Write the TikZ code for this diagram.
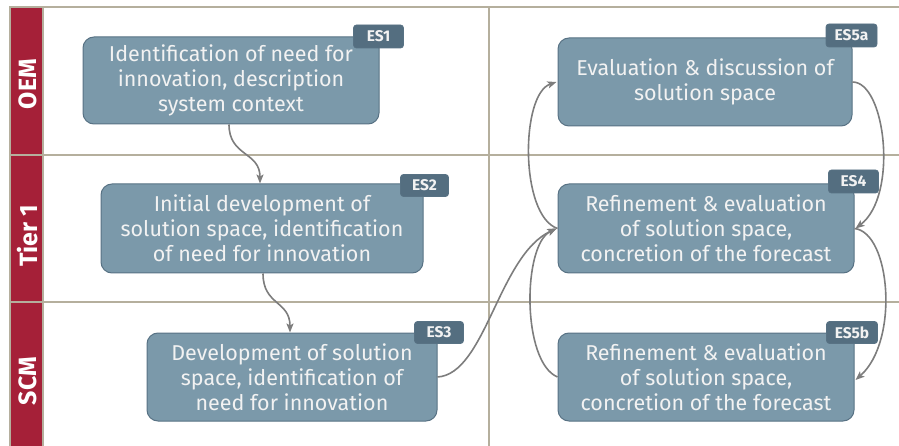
\documentclass[tikz,border=0pt]{standalone}
\usepackage{fontspec}
\setmainfont{Fira Sans}
\usetikzlibrary{arrows.meta}
\definecolor{boxfill}{RGB}{123,153,170}
\definecolor{boxline}{RGB}{88,114,132}
\definecolor{tagfill}{RGB}{84,110,128}
\definecolor{lanered}{RGB}{165,32,56}
\definecolor{gridline}{RGB}{181,175,157}
\definecolor{arrowgray}{RGB}{125,125,125}
\definecolor{txt}{RGB}{242,242,242}
\tikzset{
  stepbox/.style={draw=boxline, line width=1pt, fill=boxfill, rounded corners=11pt,
    align=center, text=txt, font=\fontsize{21.5}{25}\selectfont, inner sep=0pt},
  tagbox/.style={draw=boxline, line width=0.8pt, fill=tagfill, rounded corners=3pt,
    text=txt, font=\fontsize{15.5}{16}\selectfont\bfseries, inner sep=0pt,
    minimum width=50pt, minimum height=23pt},
  lanelabel/.style={rotate=90, text=white, font=\fontsize{25}{26}\selectfont\bfseries},
  grid/.style={draw=gridline, line width=2pt},
  flow/.style={draw=arrowgray, line width=1.6pt, -{Stealth[length=9pt,width=7pt,inset=2pt]}}
}
\begin{document}
\begin{tikzpicture}[x=1pt,y=-1pt]
\useasboundingbox (0,0) rectangle (899,446);
% lanes
\fill[lanered] (10,7) rectangle (43,446);
\draw[grid] (10,446) -- (10,7) -- (899,7);
\draw[grid] (10,155) -- (899,155);
\draw[grid] (10,302) -- (899,302);
\draw[grid] (43,7) -- (43,446);
\draw[grid] (489,7) -- (489,446);
\node[lanelabel] (lOEM) at (28,84) {OEM};
\node[lanelabel] (lT1) at (28,236) {Tier 1};
\node[lanelabel] (lSCM) at (28,381) {SCM};
% step boxes
\node[stepbox, minimum width=296pt, minimum height=87pt] (ES1) at (231,80.5)
  {Identification of need for\\innovation, description\\system context};
\node[stepbox, minimum width=322pt, minimum height=89pt] (ES2) at (262,228.5)
  {Initial development of\\solution space, identification\\of need for innovation};
\node[stepbox, minimum width=290pt, minimum height=88pt] (ES3) at (292,377)
  {Development of solution\\space, identification of\\need for innovation};
\node[stepbox, minimum width=294pt, minimum height=88pt] (ES5a) at (705,82)
  {Evaluation \& discussion of\\solution space};
\node[stepbox, minimum width=296pt, minimum height=89pt] (ES4) at (706,228.5)
  {Refinement \& evaluation\\of solution space,\\concretion of the forecast};
\node[stepbox, minimum width=296pt, minimum height=88pt] (ES5b) at (706,377)
  {Refinement \& evaluation\\of solution space,\\concretion of the forecast};
% tags
\node[tagbox] (t1) at ([xshift=-1pt]ES1.north east) {ES1};
\node[tagbox, minimum width=48pt, minimum height=22pt] (t2) at ([xshift=1pt,yshift=-2pt]ES2.north east) {ES2};
\node[tagbox, minimum width=49pt, minimum height=22pt] (t3) at ([xshift=1.5pt]ES3.north east) {ES3};
\node[tagbox, minimum width=51pt] (t5a) at ([xshift=-1pt,yshift=2pt]ES5a.north east) {ES5a};
\node[tagbox] (t4) at ([xshift=-1pt,yshift=2pt]ES4.north east) {ES4};
\node[tagbox, minimum width=51pt, minimum height=22pt] (t5b) at ([xshift=-2.5pt]ES5b.north east) {ES5b};
% connectors
\draw[flow] ([xshift=-2pt]ES1.south) .. controls +(0,32) and +(0,-32) .. ([xshift=-2pt]ES2.north);
\draw[flow] ([xshift=1pt]ES2.south) .. controls +(0,32) and +(0,-32) .. ([xshift=-2pt]ES3.north);
\draw[flow] (ES3.east) .. controls +(48,-3) and +(-58,27) .. ([xshift=-1pt]ES4.west);
\draw[flow] (ES5b.west) .. controls +(-36,-15) and +(-34,16) .. ([xshift=-1pt]ES4.west);
\draw[flow] (ES4.west) .. controls +(-38,-13) and +(-36,12) .. ([xshift=-1pt]ES5a.west);
\draw[flow] (ES5a.east) .. controls +(33,0) and +(43,-33) .. ([xshift=1pt]ES4.east);
\draw[flow] (ES4.east) .. controls +(36,4) and +(44,-39) .. ([xshift=1pt,yshift=-3pt]ES5b.east);
\end{tikzpicture}
\end{document}
